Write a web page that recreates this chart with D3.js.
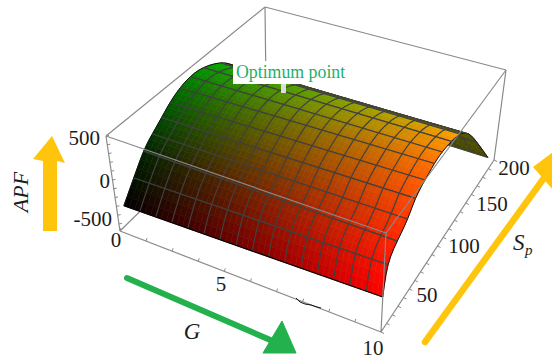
<!DOCTYPE html>
<html>
<head>
<meta charset="utf-8">
<script src="https://cdn.jsdelivr.net/npm/d3@7"></script>
<style>
body { margin: 0; background: #fff; }
svg { display: block; }
text { font-family: "Liberation Serif", serif; fill: #1c1c1c; }
</style>
</head>
<body>
<div id="chart"></div>
<script>
// Surface rows at the two ends of the G axis
const spAtG0 = [9, 25, 42, 53, 67, 78, 92, 105, 120, 145, 158, 172, 186];
const apfAtG0 = [-364, -180, 36, 111, 208, 295, 370, 400, 395, 262, 100, -90, -400];
const spAtG10 = [0, 5, 21, 39, 49, 65, 81, 92, 109, 124, 141, 157, 186];
const apfAtG10 = [-198, 133, 219, 306, 446, 500, 554, 565, 540, 490, 330, 79, -407];

const gTicks = [0, 5, 10];
const spTicks = [50, 100, 150, 200];
const apfTicks = [-500, 0, 500];

const width = 552, height = 361;
const meshCols = 16, ridgeRow = 9;

const svg = d3.select("#chart").append("svg")
    .attr("width", width)
    .attr("height", height);

// box corners on screen: bottom and top, [G=0 Sp=0, G=10 Sp=0, G=10 Sp=200, G=0 Sp=200]
const bottom = [[120, 231], [381, 332], [494, 160], [266, 88]];
const top_ = [[106, 136], [386, 233], [506, 70], [265, 7]];

const gScale = d3.scaleLinear().domain([0, 10]).range([0, 1]);
const spScale = d3.scaleLinear().domain([0, 200]).range([0, 1]);
const apfScale = d3.scaleLinear().domain([-580, 500]).range([0, 1]);

function quad(c, u, v) {
    const a = d3.interpolate(c[0], c[1])(u);
    const b = d3.interpolate(c[3], c[2])(u);
    return d3.interpolate(a, b)(v);
}
function project(g, sp, apf) {
    const u = gScale(g), v = spScale(sp);
    const p = quad(bottom, u, v), q = quad(top_, u, v);
    return d3.interpolate(p, q)(apfScale(apf));
}

// row r can be fractional, so the fill can be shaded inside one mesh cell
const lastRow = spAtG0.length - 1;
const sp0 = d3.interpolateBasis(spAtG0), sp1 = d3.interpolateBasis(spAtG10);
const z0 = d3.interpolateBasis(apfAtG0), z1 = d3.interpolateBasis(apfAtG10);
function surfacePoint(g, r) {
    const t = r / lastRow;
    const acrossG = d3.scaleLinear().domain([0, 10]);
    return project(g, acrossG.range([sp0(t), sp1(t)])(g), acrossG.range([z0(t), z1(t)])(g));
}

const red = d3.scaleLinear().domain([0, 10]).range([0, 255]);
const green = d3.scaleLinear().domain([0, ridgeRow]).range([0, 168]);
const backShade = d3.scaleLinear().domain([ridgeRow, 12]).range([96, 70]);
function cellColor(g, r) {
    if (r >= ridgeRow) return d3.rgb(backShade(r), backShade(r), 0);
    return d3.rgb(red(g), green(r), 0);
}

const pathLine = d3.line();

function drawEdge(group, from, to) {
    group.append("line")
        .attr("x1", from[0]).attr("y1", from[1])
        .attr("x2", to[0]).attr("y2", to[1])
        .attr("stroke", "#8a8a8a")
        .attr("stroke-width", 1.2);
}

// edges behind the surface
const back = svg.append("g");
drawEdge(back, top_[0], top_[3]);
drawEdge(back, top_[3], top_[2]);
drawEdge(back, bottom[0], bottom[3]);
drawEdge(back, bottom[3], top_[3]);
drawEdge(back, bottom[2], top_[2]);
drawEdge(back, bottom[0], top_[0]);
drawEdge(back, bottom[0], bottom[1]);
drawEdge(back, bottom[1], bottom[2]);

// axis ticks
function axisTicks(values, from, to, size, dx, dy) {
    values.forEach(t => {
        const p = d3.interpolate(from, to)(t);
        back.append("line")
            .attr("x1", p[0]).attr("y1", p[1])
            .attr("x2", p[0] + dx * size).attr("y2", p[1] + dy * size)
            .attr("stroke", "#8a8a8a")
            .attr("stroke-width", 1);
    });
}
axisTicks(d3.range(0, 10.01, 1).map(gScale), bottom[0], bottom[1], 3, 0.3, -1);
axisTicks(d3.range(0, 200.01, 10).map(spScale), bottom[1], bottom[2], 3, 1, 0.5);
axisTicks(d3.range(-500, 500.01, 100).map(apfScale), bottom[0], top_[0], 3, 1, -0.2);

// surface, painted from the far rows to the near ones
const surface = svg.append("g");
const rowSteps = 3, colSteps = 3;
const dG = 10 / meshCols;
for (let r = lastRow - 1; r >= 0; r--) {
    for (let s = rowSteps - 1; s >= 0; s--) {
        const r0 = r + s / rowSteps, r1 = r + (s + 1) / rowSteps;
        for (let c = 0; c < meshCols * colSteps; c++) {
            const g0 = c * dG / colSteps, g1 = (c + 1) * dG / colSteps;
            const color = cellColor((g0 + g1) / 2, (r0 + r1) / 2).formatHex();
            surface.append("path")
                .attr("d", pathLine([surfacePoint(g0, r0), surfacePoint(g1, r0), surfacePoint(g1, r1), surfacePoint(g0, r1)]) + "Z")
                .attr("fill", color)
                .attr("stroke", color)
                .attr("stroke-width", 0.6);
        }
    }
    // mesh of this strip
    d3.range(0, meshCols + 1).forEach(c => {
        const ends = c == 0 || c == meshCols;
        surface.append("path")
            .attr("d", pathLine(d3.range(0, rowSteps + 1).map(s => surfacePoint(c * dG, r + s / rowSteps))))
            .attr("fill", "none")
            .attr("stroke", ends ? "#111" : "#404040")
            .attr("stroke-width", ends ? 1 : 1.2);
    });
    [r, r + 1].forEach(row => {
        surface.append("path")
            .attr("d", pathLine([surfacePoint(0, row), surfacePoint(10, row)]))
            .attr("fill", "none")
            .attr("stroke", row == 0 ? "#000" : "#404040")
            .attr("stroke-width", 1.2);
    });
}

// edges in front of the surface
const front = svg.append("g");
drawEdge(front, top_[0], top_[1]);
drawEdge(front, top_[1], bottom[1]);
drawEdge(front, top_[1], top_[2]);

// pen slip on the G axis in the source figure
front.append("path")
    .attr("d", "M296,298L300,302L305,304L311,305L317,307L321,308")
    .attr("fill", "none")
    .attr("stroke", "#111")
    .attr("stroke-width", 1);

// optimum label
svg.append("rect").attr("x", 281).attr("y", 84).attr("width", 5).attr("height", 9).attr("fill", "#dcdcdc");
svg.append("rect").attr("x", 233).attr("y", 61).attr("width", 114).attr("height", 23).attr("fill", "#fff");
svg.append("text").attr("x", 236).attr("y", 78)
    .style("font-size", "17.8px")
    .style("fill", "#1bb06c")
    .text("Optimum point");

// tick labels
function tickLabel(txt, x, y, anchor) {
    svg.append("text")
        .attr("x", x).attr("y", y)
        .attr("text-anchor", anchor)
        .attr("dominant-baseline", "central")
        .style("font-size", "21px")
        .text(txt);
}
const apfLabelX = [112, 110, 100], apfLabelY = [219, 181, 138];
apfTicks.forEach((t, i) => tickLabel(t, apfLabelX[i], apfLabelY[i], "end"));
const gLabelX = [116, 221, 373], gLabelY = [240, 284, 348];
gTicks.forEach((t, i) => tickLabel(t, gLabelX[i], gLabelY[i], "middle"));
const spLabelX = [427, 464, 492, 514], spLabelY = [295, 246, 204, 168];
spTicks.forEach((t, i) => tickLabel(t, spLabelX[i], spLabelY[i], "middle"));

// axis titles
svg.append("text").attr("transform", "translate(28,192) rotate(-90)")
    .attr("text-anchor", "middle")
    .style("font-size", "22px").style("font-style", "italic")
    .text("APF");
svg.append("text").attr("x", 192).attr("y", 339)
    .attr("text-anchor", "middle")
    .style("font-size", "23px").style("font-style", "italic")
    .text("G");
svg.append("text").attr("x", 513).attr("y", 250)
    .style("font-size", "23px").style("font-style", "italic")
    .text("S");
svg.append("text").attr("x", 525).attr("y", 255)
    .style("font-size", "15px").style("font-style", "italic")
    .text("p");

// arrows
const yellow = "#ffc50d", arrowGreen = "#22b14c";
svg.append("path")
    .attr("d", "M43,231V161L33,159L52,136L65,163L57,161V231Z")
    .attr("fill", yellow);
svg.append("line")
    .attr("x1", 127).attr("y1", 278).attr("x2", 275).attr("y2", 342)
    .attr("stroke", arrowGreen).attr("stroke-width", 6).attr("stroke-linecap", "round");
svg.append("path")
    .attr("d", "M282,321L296,353L263,353Z")
    .attr("fill", arrowGreen).attr("stroke", arrowGreen).attr("stroke-linejoin", "round");
svg.append("line")
    .attr("x1", 425).attr("y1", 342).attr("x2", 552).attr("y2", 167)
    .attr("stroke", yellow).attr("stroke-width", 6.5).attr("stroke-linecap", "round");
svg.append("path")
    .attr("d", "M533,167L553,152L553,190Z")
    .attr("fill", yellow);
</script>
</body>
</html>
